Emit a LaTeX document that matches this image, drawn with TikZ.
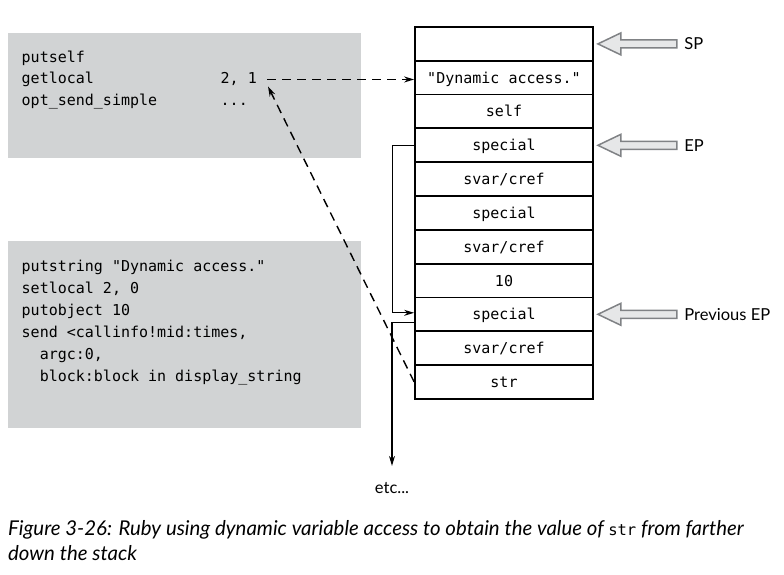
\documentclass[tikz,border=0pt]{standalone}
\usepackage{fontspec}
\setmainfont{Lato}
\setsansfont{Lato}
\setmonofont{DejaVu Sans Mono}
\usetikzlibrary{positioning, arrows.meta}
\definecolor{boxgray}{RGB}{209,211,212}
\definecolor{arrowfill}{RGB}{230,231,232}
\definecolor{arrowline}{RGB}{128,130,133}
\tikzstyle{codebox} = [rectangle, fill=boxgray, anchor=north west, inner sep=0pt]
\tikzstyle{code} = [font=\ttfamily\fontsize{15}{22}\selectfont, anchor=base west, inner sep=0pt]
\tikzstyle{cell} = [rectangle, draw=black, line width=1.8pt, minimum width=178pt, minimum height=33.8pt, text height=11pt, text depth=0pt, font=\ttfamily\fontsize{15}{22}\selectfont]
\tikzstyle{lbl} = [font=\fontsize{16.5}{20}\selectfont]
\tikzstyle{hollow} = [draw=arrowline, fill=arrowfill, line width=1.5pt, line join=miter]
\tikzstyle{dasharrow} = [line width=1.4pt, dash pattern=on 9pt off 6pt, -{Stealth[length=10pt,width=6pt]}]
\tikzstyle{link} = [line width=1.1pt, -{Stealth[length=10pt,width=6pt]}]
\newcommand{\hollowarrow}[1]{\draw[hollow] ([xshift=4pt]#1.east) -- ++(23,11) -- ++(0,-7) -- ++(56,0) -- ++(0,-8) -- ++(-56,0) -- ++(0,-7) -- cycle;}

\begin{document}
\begin{tikzpicture}[x=1pt, y=1pt]
\useasboundingbox (0,0) rectangle (784,-575);
% code listings
\node (topbox) [codebox, minimum width=353pt, minimum height=125pt] at (8,-33) {};
\foreach \l [count=\i from 0] in {putself, getlocal, opt\_send\_simple}
  \node (top\i) [code] at (21.5,-62.3-21.7*\i) {\l};
\node (getargs) [code] at (220.5,-84) {2, 1};
\node (optargs) [code] at (220.5,-105.7) {...};
\node (botbox) [codebox, minimum width=353pt, minimum height=187pt] at (8,-241) {};
\foreach \l [count=\i from 0] in {{putstring "Dynamic access."}, {setlocal 2, 0}, {putobject 10}, {send <callinfo!mid:times,}, {\phantom{xx}argc:0,}, {\phantom{xx}block:block in display\_string}}
  \node (bot\i) [code] at (21.5,-271.7-22*\i) {\l};
% stack
\foreach \t [count=\i from 0] in {{}, {"Dynamic access."}, {self}, {special}, {svar/cref}, {special}, {svar/cref}, {10}, {special}, {svar/cref}, {str}}
  \node (c\i) [cell] at (504,-43.9-33.8*\i) {\t};
\node (sp) [lbl, right=87pt of c0] {SP};
\node (ep) [lbl, right=87pt of c3] {EP};
\node (prevep) [lbl, right=87pt of c8] {Previous EP};
\hollowarrow{c0}
\hollowarrow{c3}
\hollowarrow{c8}
\node (etc) [lbl] at (392,-488) {etc...};
\draw [dasharrow] ([xshift=10pt]getargs.east) -- (getargs.east -| c1.west);
\draw [dasharrow] (c10.west) -- ([xshift=11pt,yshift=-7pt]getargs.east);
\draw [link] (c3.west) -- ++(-22,0) |- ([yshift=1.5pt]c8.west);
\draw [link, shorten >=13pt] ([yshift=-8.5pt]c8.west) -| (etc.north);
\node (caption) [anchor=north west, align=left, inner sep=0pt, font=\itshape\fontsize{20.4}{25}\selectfont] at (8,-520) {Figure 3-26: Ruby using dynamic variable access to obtain the value of {\upshape\ttfamily\fontsize{15.5}{25}\selectfont str} from farther\\down the stack};
\end{tikzpicture}
\end{document}
